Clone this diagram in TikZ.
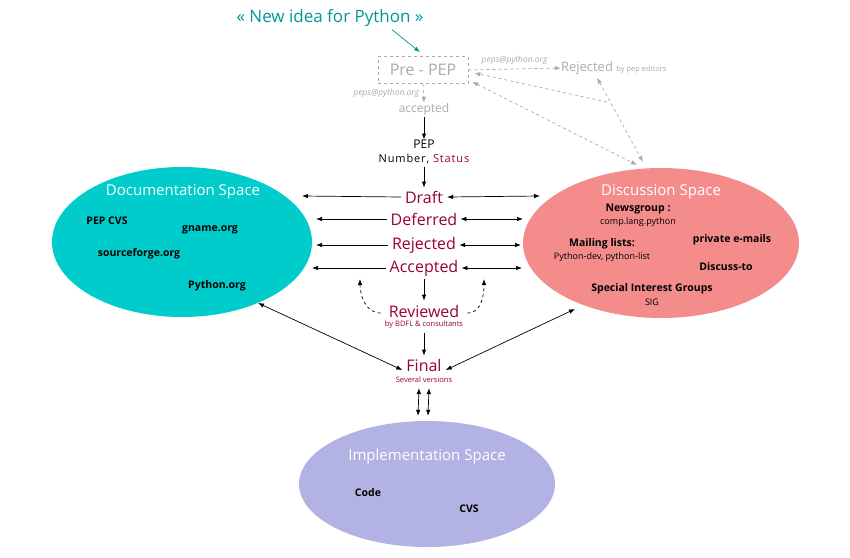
\documentclass[tikz,border=0pt]{standalone}
\usepackage{fontspec}
\setmainfont{Open Sans}
\usepackage{xcolor}
\usepackage{tikz}
\usetikzlibrary{arrows.meta,positioning,calc,shapes.geometric}
\definecolor{docteal}{RGB}{0,204,204}
\definecolor{discpink}{RGB}{244,140,140}
\definecolor{impllilac}{RGB}{178,178,228}
\definecolor{statred}{RGB}{153,0,51}
\definecolor{ideateal}{RGB}{0,150,150}
\definecolor{prepgray}{RGB}{170,170,170}

\tikzset{
    space/.style={ellipse,inner sep=0pt},
    spacetitle/.style={text=white,inner sep=0pt,font=\fontsize{15}{15}\selectfont},
    item/.style={inner sep=0pt,font=\bfseries\fontsize{10.5}{10.5}\selectfont},
    plainitem/.style={inner sep=0pt,font=\fontsize{9}{9}\selectfont},
    status/.style={text=statred,inner sep=0pt,font=\fontsize{16}{16}\selectfont},
    statsub/.style={text=statred,inner sep=0pt,font=\fontsize{7.5}{7.5}\selectfont},
    graytext/.style={text=prepgray,inner sep=0pt},
    mail/.style={text=prepgray,inner sep=0pt,font=\itshape\fontsize{8.5}{8.5}\selectfont},
    flow/.style={-{Latex[length=6pt,width=4.5pt]},line width=0.7pt},
    twoway/.style={{Latex[length=6pt,width=4.5pt]}-{Latex[length=6pt,width=4.5pt]},line width=0.7pt},
    grayflow/.style={dashed,prepgray,-{Latex[length=6pt,width=4.5pt]},line width=0.7pt},
    graytwoway/.style={dashed,prepgray,{Latex[length=6pt,width=4.5pt]}-{Latex[length=6pt,width=4.5pt]},line width=0.7pt}
}

\begin{document}
\begin{tikzpicture}[x=1pt,y=-1pt]
    \useasboundingbox (0,0) rectangle (850,557);

    % the three spaces
    \node[space,fill=docteal,minimum width=260pt,minimum height=150pt] (doc) at (182,242) {};
    \node[space,fill=discpink,minimum width=276pt,minimum height=150pt] (disc) at (661,243) {};
    \node[space,fill=impllilac,minimum width=256pt,minimum height=126pt] (impl) at (427,484) {};

    \node[spacetitle] (doctitle) at (183,192) {Documentation Space};
    \node[item] (pepcvs) at (107,221) {PEP CVS};
    \node[item] (gname) at (210,230) {gname.org};
    \node[item] (sforge) at (139,254) {sourceforge.org};
    \node[item] (pyorg) at (217,286) {Python.org};

    \node[spacetitle] (disctitle) at (661,192) {Discussion Space};
    \node[item] (news) at (638,209) {Newsgroup :};
    \node[plainitem] (clp) at (638,222) {comp.lang.python};
    \node[item] (mlists) at (602,244) {Mailing lists:};
    \node[plainitem] (pylists) at (602,257) {Python-dev, python-list};
    \node[item] (pmail) at (732,240) {private e-mails};
    \node[item] (discto) at (726,267) {Discuss-to};
    \node[item] (sigs) at (652,289) {Special Interest Groups};
    \node[plainitem] (sig) at (652,302) {SIG};

    \node[spacetitle] (impltitle) at (427,457) {Implementation Space};
    \node[item] (code) at (368,493) {Code};
    \node[item] (cvs) at (469,509) {CVS};

    % idea and pre-pep
    \node[text=ideateal,inner sep=0pt,font=\fontsize{17}{17}\selectfont] (idea) at (330,18) {« New idea for Python »};
    \node[graytext,draw=prepgray,dashed,line width=0.7pt,minimum width=90pt,minimum height=27pt,font=\fontsize{16}{16}\selectfont] (prepep) at (423,70) {Pre - PEP};
    \node[graytext,font=\fontsize{13}{13}\selectfont] (prerej) at (587,68) {Rejected};
    \node[graytext,font=\fontsize{7.5}{7.5}\selectfont,right=3pt of prerej.base east,anchor=base west] (byeds) {by pep editors};
    \node[graytext,font=\fontsize{12}{12}\selectfont] (acc) at (424,109) {accepted};
    \draw[-{Latex[length=6pt,width=4.5pt]},ideateal,line width=0.7pt] ([xshift=62pt,yshift=-3pt]idea.south) -- ([xshift=-3pt,yshift=4pt]prepep.north);
    \draw[grayflow] (prepep.east) -- node[mail,above=4pt] {peps@python.org} (prerej.west);
    \draw[grayflow] (prepep.south) -- node[mail,left=4pt] {peps@python.org} (acc.north);
    \coordinate (junc) at (607,102);
    \coordinate (discA) at (643,162);
    \coordinate (discB) at (637,165);
    \draw[grayflow] (junc) -- ([xshift=6pt,yshift=-3pt]prepep.east);
    \draw[graytwoway] ([xshift=10pt,yshift=-3pt]prerej.south) -- (discA);
    \draw[graytwoway] ([xshift=4pt,yshift=2pt]prepep.south east) -- (discB);

    % pep and its status
    \node[inner sep=0pt,font=\fontsize{12}{12}\selectfont] (pep) at (424,144) {PEP};
    \node[inner sep=0pt,font=\fontsize{11}{11}\selectfont\addfontfeatures{LetterSpace=8}] (numstat) at (424,159) {Number, \textcolor{statred}{Status}};
    \node[status] (draft) at (424,197) {Draft};
    \node[status] (deferred) at (424,219) {Deferred};
    \node[status] (rejected) at (424,245) {Rejected};
    \node[status] (accepted) at (424,268) {Accepted};
    \node[status] (reviewed) at (424,311) {Reviewed};
    \node[statsub] (bdfl) at (424,325) {by BDFL \& consultants};
    \node[status] (final) at (424,365) {Final};
    \node[statsub] (versions) at (424,380) {Several versions};

    \draw[flow] ([yshift=-2pt]acc.south) -- (pep.north);
    \draw[flow] ([yshift=-3pt]numstat.south) -- ([yshift=3pt]draft.north);
    \draw[flow] ([yshift=-3pt]accepted.south) -- ([yshift=4pt]reviewed.north);
    \draw[flow] ([yshift=-4pt]bdfl.south) -- ([yshift=3pt]final.north);

    % status links to the spaces
    \coordinate (draftL) at (302,196);   \coordinate (draftR) at (540,196);
    \coordinate (defL) at (316,219);     \coordinate (defR) at (523,219);
    \coordinate (rejL) at (316,245);     \coordinate (rejR) at (521,245);
    \coordinate (accL) at (312,268);     \coordinate (accR) at (522,268);
    \draw[flow] ([xshift=-4pt]draft.west) -- (draftL);
    \draw[twoway] ([xshift=4pt]draft.east) -- (draftR);
    \draw[flow] ([xshift=-4pt]deferred.west) -- (defL);
    \draw[twoway] ([xshift=3pt]deferred.east) -- (defR);
    \draw[flow] ([xshift=-4pt]rejected.west) -- (rejL);
    \draw[twoway] ([xshift=3pt]rejected.east) -- (rejR);
    \draw[flow] ([xshift=-4pt]accepted.west) -- (accL);
    \draw[twoway] ([xshift=3pt]accepted.east) -- (accR);

    % review loops back
    \coordinate (loopL) at (360,279);
    \coordinate (loopR) at (484,279);
    \draw[flow,dashed] ([xshift=-8pt,yshift=-2pt]reviewed.west) to[out=180,in=-90] (loopL);
    \draw[flow,dashed] ([xshift=8pt,yshift=-2pt]reviewed.east) to[out=0,in=-90] (loopR);

    % final
    \coordinate (docF) at (258,303);
    \coordinate (discF) at (575,309);
    \draw[twoway] ([xshift=-4pt,yshift=-5pt]final.west) -- (docF);
    \draw[twoway] ([xshift=4pt,yshift=-5pt]final.east) -- (discF);
    \draw[twoway] ([xshift=-5pt,yshift=-5pt]versions.south) -- ([xshift=-9pt,yshift=5pt]impl.north);
    \draw[twoway] ([xshift=5pt,yshift=-5pt]versions.south) -- ([xshift=1pt,yshift=5pt]impl.north);
\end{tikzpicture}
\end{document}
